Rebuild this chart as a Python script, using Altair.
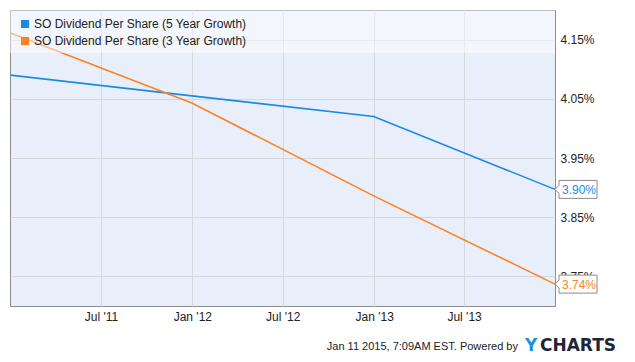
import altair as alt
import pandas as pd

# ---- data ----
dates = ["2010-12-31", "2011-12-31", "2012-12-31", "2013-12-31"]
five_year = [4.090, 4.055, 4.020, 3.897]
three_year = [4.161, 4.043, 3.886, 3.737]
series_names = ["SO Dividend Per Share (5 Year Growth)",
                "SO Dividend Per Share (3 Year Growth)"]
colors = ["#1a8ae6", "#fa8423"]
y_ticks = [3.75, 3.85, 3.95, 4.05, 4.15]
x_ticks = [(2011, 7), (2012, 1), (2012, 7), (2013, 1), (2013, 7)]
footer = "Jan 11 2015, 7:09AM EST. Powered by"

FONT = "Liberation Sans"
W, H = 545, 296

rows = []
for d, a, b in zip(dates, five_year, three_year):
    rows.append({"date": d, "value": a, "series": series_names[0]})
    rows.append({"date": d, "value": b, "series": series_names[1]})
df = pd.DataFrame(rows)
last = df[df["date"] == dates[-1]].copy()
last["label"] = last["value"].map(lambda v: f"{v:.2f}%")

x_scale = alt.Scale(type="utc", domain=[alt.DateTime(year=2010, month=12, date=30, utc=True),
                                        alt.DateTime(year=2013, month=12, date=31, utc=True)])
y_scale = alt.Scale(domain=[3.70, 4.20], nice=False, zero=False)
color_scale = alt.Scale(domain=series_names, range=colors)

x_enc = alt.X("date:T", scale=x_scale,
              axis=alt.Axis(values=[alt.DateTime(year=y, month=m, date=1, utc=True) for y, m in x_ticks],
                            labelExpr="utcFormat(datum.value, \"%b '%y\")",
                            grid=True, ticks=False, domain=False, title=None,
                            labelPadding=5, labelFontSize=12, labelColor="#222",
                            labelFont=FONT, gridColor="#d4d7dc"))
y_enc = alt.Y("value:Q", scale=y_scale,
              axis=alt.Axis(orient="right", values=y_ticks,
                            labelExpr="format(datum.value, '.2f') + '%'",
                            grid=True, ticks=False, domain=False, title=None,
                            labelPadding=5, labelFontSize=12, labelColor="#222",
                            labelFont=FONT, gridColor="#d4d7dc"))

lines = alt.Chart(df).mark_line(strokeWidth=1.6).encode(
    x=x_enc, y=y_enc,
    color=alt.Color("series:N", scale=color_scale, legend=None),
)

one = pd.DataFrame({"k": [0]})
overlay = alt.Chart(one).mark_rect(fill="white", opacity=0.45).encode(
    x=alt.value(0), x2=alt.value(W), y=alt.value(0), y2=alt.value(43)
)

legend_layers = []
for i, (name, col) in enumerate(zip(series_names, colors)):
    ld = pd.DataFrame({"name": [name]})
    legend_layers.append(
        alt.Chart(ld).mark_square(size=64, color=col, opacity=1, filled=True).encode(
            x=alt.value(15), y=alt.value(14 + 17 * i))
    )
    legend_layers.append(
        alt.Chart(ld).mark_text(align="left", baseline="middle", fontSize=12,
                                font=FONT, color="#222").encode(
            x=alt.value(24), y=alt.value(14 + 17 * i), text="name:N")
    )

box_path = "M0,0 L4,-4 L4,-9 L42,-9 L42,9 L4,9 L4,4 Z"
boxes = alt.Chart(last).mark_point(shape=box_path, size=4, filled=True, fill="white",
                                   stroke="#8a8a8a", strokeWidth=1, opacity=1).encode(
    x=alt.X("date:T", scale=x_scale), y=alt.Y("value:Q", scale=y_scale)
)
box_text = alt.Chart(last).mark_text(align="left", baseline="middle", dx=7, dy=0.5,
                                     fontSize=12, font=FONT).encode(
    x=alt.X("date:T", scale=x_scale), y=alt.Y("value:Q", scale=y_scale),
    text="label:N",
    color=alt.Color("series:N", scale=color_scale, legend=None),
)

foot = alt.Chart(one).mark_text(align="right", baseline="middle", fontSize=11,
                                font=FONT, color="#222").encode(
    x=alt.value(508), y=alt.value(337), text=alt.value(footer))
logo_y = alt.Chart(one).mark_text(align="left", baseline="middle", fontSize=17,
                                  fontWeight="bold", font="DejaVu Sans", color="#1f8fe3").encode(
    x=alt.value(515), y=alt.value(336), text=alt.value("Y"))
logo_rest = alt.Chart(one).mark_text(align="left", baseline="middle", fontSize=17,
                                     fontWeight="bold", font="DejaVu Sans", color="#1d2636").encode(
    x=alt.value(530), y=alt.value(336), text=alt.value("CHARTS"))

chart = alt.layer(lines, overlay, *legend_layers, boxes, box_text, foot, logo_y, logo_rest).properties(
    width=W, height=H,
    autosize=alt.AutoSizeParams(type="none"),
    padding={"left": 2, "top": 2, "right": 72, "bottom": 48},
    background="white",
).configure_view(fill="#e9effa", stroke="#8c8c8c", strokeWidth=1)

chart.save("out.html", embed_options={"renderer": "svg", "actions": False})
